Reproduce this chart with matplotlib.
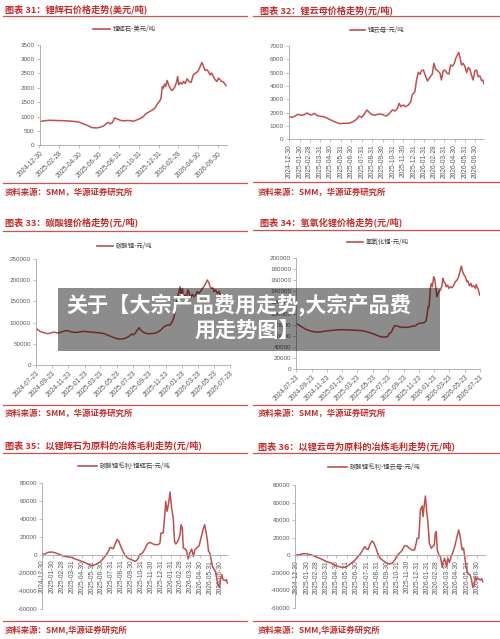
import matplotlib
matplotlib.use('Agg')
import matplotlib.pyplot as plt
import matplotlib.dates as mdates
from matplotlib.lines import Line2D
from matplotlib.patches import Rectangle
import pandas as pd

plt.rcParams['font.family'] = ['Liberation Sans', 'Noto Sans CJK SC', 'DejaVu Sans']

# ---------------- data ----------------
titles = ['图表 31：锂辉石价格走势(美元/吨)', '图表 32：锂云母价格走势(元/吨)',
          '图表 33：碳酸锂价格走势(元/吨)', '图表 34：氢氧化锂价格走势(元/吨)',
          '图表 35：以锂辉石为原料的冶炼毛利走势(元/吨)', '图表 36：以锂云母为原料的冶炼毛利走势(元/吨)']
legends = ['锂辉石-美元/吨', '锂云母-元/吨', '碳酸锂-元/吨', '氢氧化锂-元/吨',
           '碳酸锂毛利-锂辉石-元/吨', '碳酸锂毛利-锂云母-元/吨']
sources = ['资料来源：SMM，华源证券研究所', '资料来源：SMM，华源证券研究所',
           '资料来源：SMM，华源证券研究所', '资料来源：SMM，华源证券研究所',
           '资料来源：SMM,华源证券研究所', '资料来源：SMM,华源证券研究所']
overlay_lines = ['关于【大宗产品费用走势,大宗产品费', '用走势图】']

start31 = '2024-12-30'
d31 = [0,28,58,89,119,135,150,160,175,186,196,206,211,216,223,230,237,247,257,267,277,288,298,308,318,325,332,339,346,354,362,369,372,376,379,383,386,391,395,400,405,410,415,420,423,426,431,436,441,446,452,458,464,471,478,485,492,497,502,507,512,517,522,527,532,538,543,548,553,558,563,568,571]
v31 = [826,872,860,849,814,744,674,616,605,628,674,767,802,744,790,953,919,872,849,860,860,837,884,930,1000,1093,1140,1186,1233,1302,1465,1558,1640,2047,1988,2128,2047,2256,2105,1988,1907,1953,2047,2221,2395,2105,2186,2128,2221,2151,2314,2221,2186,2453,2512,2570,2744,2884,2744,2605,2628,2570,2453,2512,2395,2279,2221,2337,2279,2221,2198,2128,2081]

start32 = '2024-12-30'
d32 = [0,8,18,25,35,45,52,59,66,74,81,91,101,110,120,130,140,149,159,169,179,189,198,205,213,221,228,233,240,250,260,270,279,286,293,303,311,318,323,328,335,342,350,357,361,369,374,379,384,389,394,399,406,413,420,425,430,436,443,447,452,457,464,469,474,480,485,489,494,498,502,506,511,516,521,526,531,535,540,545,550,555,560,565,569,572]
v32 = [1700,1650,1750,1875,1800,1850,1975,1875,1825,1950,1800,1725,1700,1600,1475,1350,1250,1175,1200,1200,1225,1350,1500,1750,1650,1900,2200,2075,1900,1800,1875,1900,1800,1750,1900,2200,2125,2325,2700,2450,2575,2450,2575,2825,3325,3575,4450,5025,4875,5150,5200,4825,4375,4650,4875,5700,5250,5150,4950,4450,5125,5200,4950,4900,5575,5500,5700,6075,6325,6525,6075,5575,5700,5450,5000,5400,5250,4825,4450,5125,5200,4700,4750,4400,4450,4150]

start33 = '2024-07-23'
d33 = [0,9,19,31,44,56,69,81,94,106,119,131,144,156,169,182,194,207,219,232,244,257,269,282,294,307,319,332,344,354,361,367,373,382,388,394,407,419,432,444,457,470,482,495,505,513,520,526,532,538,542,546,551,555,560,566,572,577,582,588,595,601,607,613,620,626,632,639,645,650,655,660,665,670,676,682,689,695,701,707]
v33 = [88000,82500,78600,76200,73900,75500,77800,75500,77000,80200,81000,78600,77000,77000,78600,79400,78600,77800,77000,76200,75500,73900,70700,67600,64500,62100,61300,62100,65200,69200,73100,70700,74700,82500,88000,82500,76200,73900,73900,74700,77000,82500,90400,94300,94300,102200,114000,133600,157200,173000,184700,165000,180800,158800,165000,158800,176900,169000,157200,166600,161100,165000,173000,169000,174500,180800,184700,192600,200400,194900,184700,180800,182300,173000,176900,169000,173000,165000,161100,158800]

start34 = '2024-07-23'
d34 = [0,11,24,37,50,63,77,90,103,116,130,143,156,169,183,196,209,222,235,249,262,275,288,302,315,328,341,354,365,370,378,385,391,401,414,427,440,454,463,473,484,497,508,516,520,524,528,533,537,541,546,550,554,559,566,573,579,583,587,592,596,602,606,612,619,626,632,639,645,652,656,661,667,672,678,682,688,694,698,705,712,715,721,725,729]
v34 = [82200,79200,75600,72000,69600,67800,66600,66600,67200,68400,69000,69600,70200,70800,70800,70800,70200,70200,69600,69600,69000,67800,66000,64200,61800,59400,57600,57600,58800,64200,66000,73200,78000,77400,75600,75000,75000,76200,77400,77400,81600,82800,83400,86400,97200,112200,112200,145200,154200,148200,166200,163200,148200,130200,139200,142200,150000,163200,157200,154200,148200,151200,145200,148200,146400,151200,157200,160200,166200,178200,185400,175200,169200,166200,157200,158400,150000,154200,148200,150000,145200,152400,145200,140400,133200]

start35 = '2024-12-30'
d35 = [0,7,17,28,38,48,59,69,79,89,100,110,120,131,141,151,156,167,177,187,195,203,208,213,218,223,230,235,241,247,254,264,274,285,290,295,300,308,316,323,331,339,346,357,362,365,372,377,380,384,389,393,398,403,407,411,415,419,424,427,431,434,439,444,449,454,460,465,470,475,483,490,495,500,504,508,512,516,520,524,528,533,537,541,545,549,553,557,562,567,570]
v35 = [1100,1100,3000,3300,2600,1100,-400,-1500,-2200,-2600,-4400,-5600,-7000,-8500,-10400,-11900,-11500,-10000,-7800,-4100,-400,4100,8500,7800,7000,11500,17400,15200,9600,4800,-400,-3700,-5200,-7000,-6300,-3300,400,2200,7000,12200,14100,12600,11500,11500,13300,24400,24400,44800,59600,48500,57800,70000,52200,41100,15200,12200,14100,17000,22600,33700,30000,7800,7000,4800,-4400,2200,6700,-1500,5900,7800,10400,20700,28100,33700,26300,17000,4100,2200,-5200,-12600,-15200,-18100,-25600,-33000,-35900,-27400,-21900,-27400,-28500,-27400,-31100]

start36 = '2024-12-30'
d36 = [0,6,16,26,36,47,57,67,77,87,97,107,118,128,138,148,158,168,178,186,193,201,207,212,217,222,229,234,241,247,254,264,275,282,290,298,305,312,320,327,335,342,350,358,363,366,371,376,381,384,387,391,395,399,403,409,413,418,421,424,427,432,437,442,445,449,452,455,459,464,469,474,480,487,492,496,500,503,507,511,515,519,523,527,531,535,539,543,547,551,554,558,562,565]
v36 = [400,400,1500,1900,1100,0,-1500,-3000,-4600,-6500,-8000,-9100,-11400,-12900,-13700,-13700,-11400,-8300,-5300,-1500,1500,6100,9900,7200,6800,11800,16300,14400,8000,1500,-3400,-6500,-9100,-9900,-9100,-5300,-400,2300,5300,10600,10600,8000,6100,6100,13700,19400,19400,51600,56200,44000,55400,67500,49700,36400,13700,8000,9900,11800,25000,26900,6100,400,-2300,-13700,-8300,-3400,-7200,-12900,-3400,-8300,-1500,3000,9900,21300,28800,23100,11800,6100,8000,-3400,-13700,-19700,-21300,-22400,-28100,-36400,-34900,-24300,-28100,-26200,-27300,-28100,-26600,-30000]

yt31 = [0, 500, 1000, 1500, 2000, 2500, 3000, 3500]
yt32 = [0, 1000, 2000, 3000, 4000, 5000, 6000, 7000]
yt33 = [0, 50000, 100000, 150000, 200000, 250000]
yt34 = [0, 20000, 40000, 60000, 80000, 100000, 120000, 140000, 160000, 180000, 200000]
yt35 = [-60000, -40000, -20000, 0, 20000, 40000, 60000, 80000]
yt36 = [-60000, -40000, -20000, 0, 20000, 40000, 60000, 80000]

xt31 = ['2024-12-30', '2025-02-28', '2025-04-30', '2025-06-30', '2025-08-31', '2025-10-31',
        '2025-12-31', '2026-02-28', '2026-04-30', '2026-06-30']
xt_month = ['2024-12-30', '2025-01-30', '2025-02-28', '2025-03-31', '2025-04-30', '2025-05-31',
            '2025-06-30', '2025-07-31', '2025-08-31', '2025-09-30', '2025-10-31', '2025-11-30',
            '2025-12-31', '2026-01-31', '2026-02-28', '2026-03-31', '2026-04-30', '2026-05-31',
            '2026-06-30']
xt_23 = ['2024-07-23', '2024-09-23', '2024-11-23', '2025-01-23', '2025-03-23', '2025-05-23',
         '2025-07-23', '2025-09-23', '2025-11-23', '2026-01-23', '2026-03-23', '2026-05-23',
         '2026-07-23']

# ---------------- style ----------------
W, H = 500, 639
fig = plt.figure(figsize=(5, 6.39), dpi=100)
fig.patch.set_facecolor('white')

RED_T = '#C42B2B'
RED_RULE = '#D4504C'
LINE_C = '#C0504D'
TICK_C = '#595959'
SPINE_C = '#A6A6A6'
CJK = ['Noto Sans CJK SC', 'DejaVu Sans']


def fx(x):
    return x / W


def fy(y):
    return 1 - y / H


def to_dates(start, days):
    return pd.Timestamp(start) + pd.to_timedelta(days, unit='D')


def hrule(x0, x1, y):
    fig.add_artist(Line2D([fx(x0), fx(x1)], [fy(y), fy(y)], transform=fig.transFigure,
                          color=RED_RULE, lw=0.9))


def panel(box, head, legend, src, start, days, vals, yt, xt, rot, xlim, zero_axis=False):
    l, t, r, b = box['ax']
    ax = fig.add_axes([fx(l), fy(b), (r - l) / W, (b - t) / H])
    ax.plot(to_dates(start, days), vals, color=LINE_C, lw=1.1, solid_joinstyle='round')
    ax.set_ylim(yt[0], yt[-1])
    ax.set_yticks(yt)
    ax.set_yticklabels([str(v) for v in yt])
    ax.set_xlim(pd.Timestamp(xlim[0]), pd.Timestamp(xlim[1]))
    ax.set_xticks(pd.to_datetime(xt))
    ax.set_xticklabels(xt)
    for s in ['top', 'right']:
        ax.spines[s].set_visible(False)
    for s in ['left', 'bottom']:
        ax.spines[s].set_color(SPINE_C)
        ax.spines[s].set_linewidth(0.6)
    if zero_axis:
        ax.spines['bottom'].set_position(('data', 0))
    ax.tick_params(axis='both', length=2, width=0.5, color=SPINE_C, labelcolor=TICK_C, pad=1.5)
    ax.tick_params(axis='y', labelsize=4.5)
    ax.tick_params(axis='x', labelsize=4.8)
    if rot == 45:
        for lab in ax.get_xticklabels():
            lab.set_rotation(45)
            lab.set_ha('right')
            lab.set_va('top')
            lab.set_rotation_mode('anchor')
    else:
        for lab in ax.get_xticklabels():
            lab.set_rotation(90)
            lab.set_ha('center')
            lab.set_va('top')
    ax.patch.set_alpha(0)
    # title, rules, legend, source
    tx, ty = box['title']
    fig.text(fx(tx), fy(ty), head, family=CJK, fontsize=6.6, weight='bold', color=RED_T,
             ha='left', va='center')
    rx0, rx1 = box['rule']
    hrule(rx0, rx1, box['rule_top'])
    hrule(rx0, rx1, box['rule_bot'])
    lx0, lx1, ly = box['legend']
    fig.add_artist(Line2D([fx(lx0), fx(lx1)], [fy(ly), fy(ly)], transform=fig.transFigure,
                          color=LINE_C, lw=1.2))
    fig.text(fx(lx1 + 3), fy(ly), legend, family=CJK, fontsize=4.6, color='#404040',
             ha='left', va='center')
    sx, sy = box['src']
    fig.text(fx(sx), fy(sy), src, family=CJK, fontsize=6.0, weight='bold', color=RED_T,
             ha='left', va='center')
    return ax


boxes = [
    dict(ax=(39.5, 44.7, 227, 145.3), title=(5, 9.5), rule=(3, 247), rule_top=16, rule_bot=183,
         legend=(93, 110, 28.5), src=(5, 192)),
    dict(ax=(288.5, 46, 484, 139.3), title=(260, 10), rule=(253, 500), rule_top=16, rule_bot=182,
         legend=(350, 365, 29.5), src=(258, 192)),
    dict(ax=(35.7, 259, 230, 365), title=(5, 222), rule=(3, 247), rule_top=231, rule_bot=405,
         legend=(97, 113, 246), src=(5, 413)),
    dict(ax=(296, 258, 480, 369), title=(260, 222), rule=(253, 500), rule_top=230, rule_bot=405,
         legend=(347, 363, 242), src=(258, 413)),
    dict(ax=(42, 483, 228, 609), title=(5, 445), rule=(3, 247), rule_top=453, rule_bot=621,
         legend=(78, 97, 466), src=(5, 630)),
    dict(ax=(295, 485, 485, 608), title=(258, 446), rule=(253, 500), rule_top=453, rule_bot=621,
         legend=(328, 347, 467), src=(258, 630)),
]

panel(boxes[0], titles[0], legends[0], sources[0], start31, d31, v31, yt31, xt31, 45,
      ('2024-12-30', '2026-07-27'))
panel(boxes[1], titles[1], legends[1], sources[1], start32, d32, v32, yt32, xt_month, 90,
      ('2024-12-28', '2026-07-25'))
panel(boxes[2], titles[2], legends[2], sources[2], start33, d33, v33, yt33, xt_23, 45,
      ('2024-07-23', '2026-07-23'))
panel(boxes[3], titles[3], legends[3], sources[3], start34, d34, v34, yt34, xt_23, 45,
      ('2024-07-23', '2026-07-23'))
panel(boxes[4], titles[4], legends[4], sources[4], start35, d35, v35, yt35, xt_month, 90,
      ('2024-12-28', '2026-07-25'), zero_axis=True)
panel(boxes[5], titles[5], legends[5], sources[5], start36, d36, v36, yt36, xt_month, 90,
      ('2024-12-25', '2026-07-25'), zero_axis=True)

# overlay banner
fig.add_artist(Rectangle((fx(58), fy(351)), (440 - 58) / W, (351 - 288) / H,
                         transform=fig.transFigure, facecolor='black', alpha=0.45,
                         edgecolor='none', zorder=20))
fig.text(fx(239), fy(305), overlay_lines[0], family=CJK, fontsize=15.2, weight='bold',
         color='white', ha='center', va='center', zorder=21)
fig.text(fx(247), fy(331), overlay_lines[1], family=CJK, fontsize=15.2, weight='bold',
         color='white', ha='center', va='center', zorder=21)

fig.savefig('out.png', dpi=100, facecolor='white')
